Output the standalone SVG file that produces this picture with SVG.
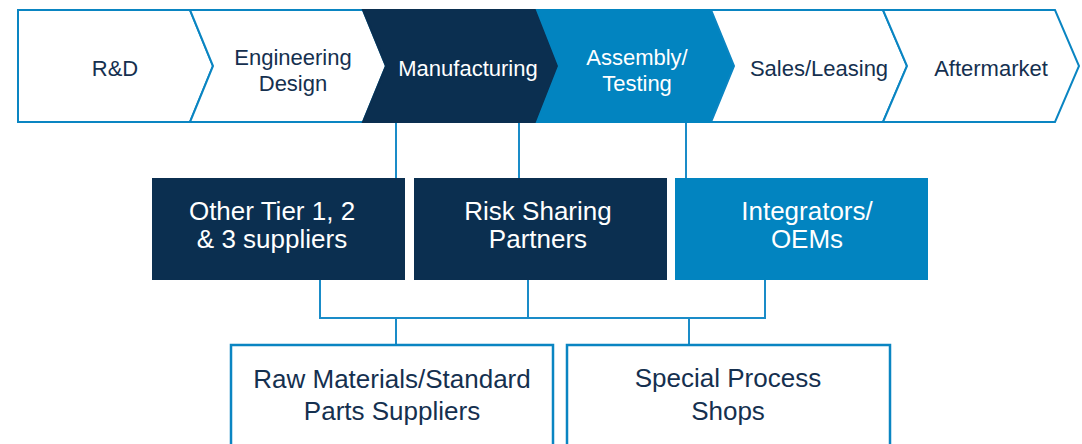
<svg xmlns="http://www.w3.org/2000/svg" width="1082" height="444" viewBox="0 0 1082 444">
<style>
.chev{stroke:#0a85c2;stroke-width:2;stroke-linejoin:miter}
.w{fill:#ffffff}
.dark{fill:#0b2f50;stroke:#0b2f50}
.mid{fill:#0284c0;stroke:#0284c0}
.t{font-family:"Liberation Sans",Arial,sans-serif;text-anchor:middle}
.top{font-size:22px;fill:#15304f}
.topw{font-size:22px;fill:#ffffff}
.box{font-size:26px;fill:#ffffff}
.bot{font-size:26px;fill:#15304f}
.conn{fill:none;stroke:#1a8cc8;stroke-width:2}
.bbox{fill:#ffffff;stroke:#0a85c2;stroke-width:2.5}
</style>
<g id="connectors">
<path class="conn" d="M396,122V178M519,122V178M686,122V178"/>
<path class="conn" d="M320,280V318H765V280M528,280V318M396,318V345M689,318V345"/>
</g>
<g id="rd">
<polygon class="chev w" points="18,10 190,10 213,66 190,122 18,122"/>
<text class="t top" x="115" y="76">R&amp;D</text>
</g>
<g id="engineering">
<polygon class="chev w" points="190,10 363,10 386,66 363,122 190,122 213,66"/>
<text class="t top" x="293" y="65">Engineering</text>
<text class="t top" x="293" y="91">Design</text>
</g>
<g id="manufacturing">
<polygon class="chev dark" points="363,10 537,10 559,66 537,122 363,122 386,66"/>
<text class="t topw" x="468" y="76">Manufacturing</text>
</g>
<g id="assembly">
<polygon class="chev mid" points="537,10 711,10 734,66 711,122 537,122 559,66"/>
<text class="t topw" x="637" y="65">Assembly/</text>
<text class="t topw" x="637" y="91">Testing</text>
</g>
<g id="sales">
<polygon class="chev w" points="711,10 883,10 907,66 883,122 711,122 734,66"/>
<text class="t top" x="819" y="76">Sales/Leasing</text>
</g>
<g id="aftermarket">
<polygon class="chev w" points="883,10 1055,10 1079,66 1055,122 883,122 907,66"/>
<text class="t top" x="991" y="76">Aftermarket</text>
</g>
<g id="tier">
<rect x="152" y="178" width="253" height="102" fill="#0b2f50"/>
<text class="t box" x="272" y="220">Other Tier 1, 2</text>
<text class="t box" x="272" y="248">&amp; 3 suppliers</text>
</g>
<g id="risk">
<rect x="414" y="178" width="253" height="102" fill="#0b2f50"/>
<text class="t box" x="538" y="220">Risk Sharing</text>
<text class="t box" x="538" y="248">Partners</text>
</g>
<g id="integrators">
<rect x="675" y="178" width="253" height="102" fill="#0284c0"/>
<text class="t box" x="807" y="220">Integrators/</text>
<text class="t box" x="807" y="248">OEMs</text>
</g>
<g id="raw">
<rect class="bbox" x="231" y="345" width="322" height="110"/>
<text class="t bot" x="392" y="388">Raw Materials/Standard</text>
<text class="t bot" x="392" y="420">Parts Suppliers</text>
</g>
<g id="special">
<rect class="bbox" x="567" y="345" width="323" height="110"/>
<text class="t bot" x="728" y="387">Special Process</text>
<text class="t bot" x="728" y="420">Shops</text>
</g>
</svg>
